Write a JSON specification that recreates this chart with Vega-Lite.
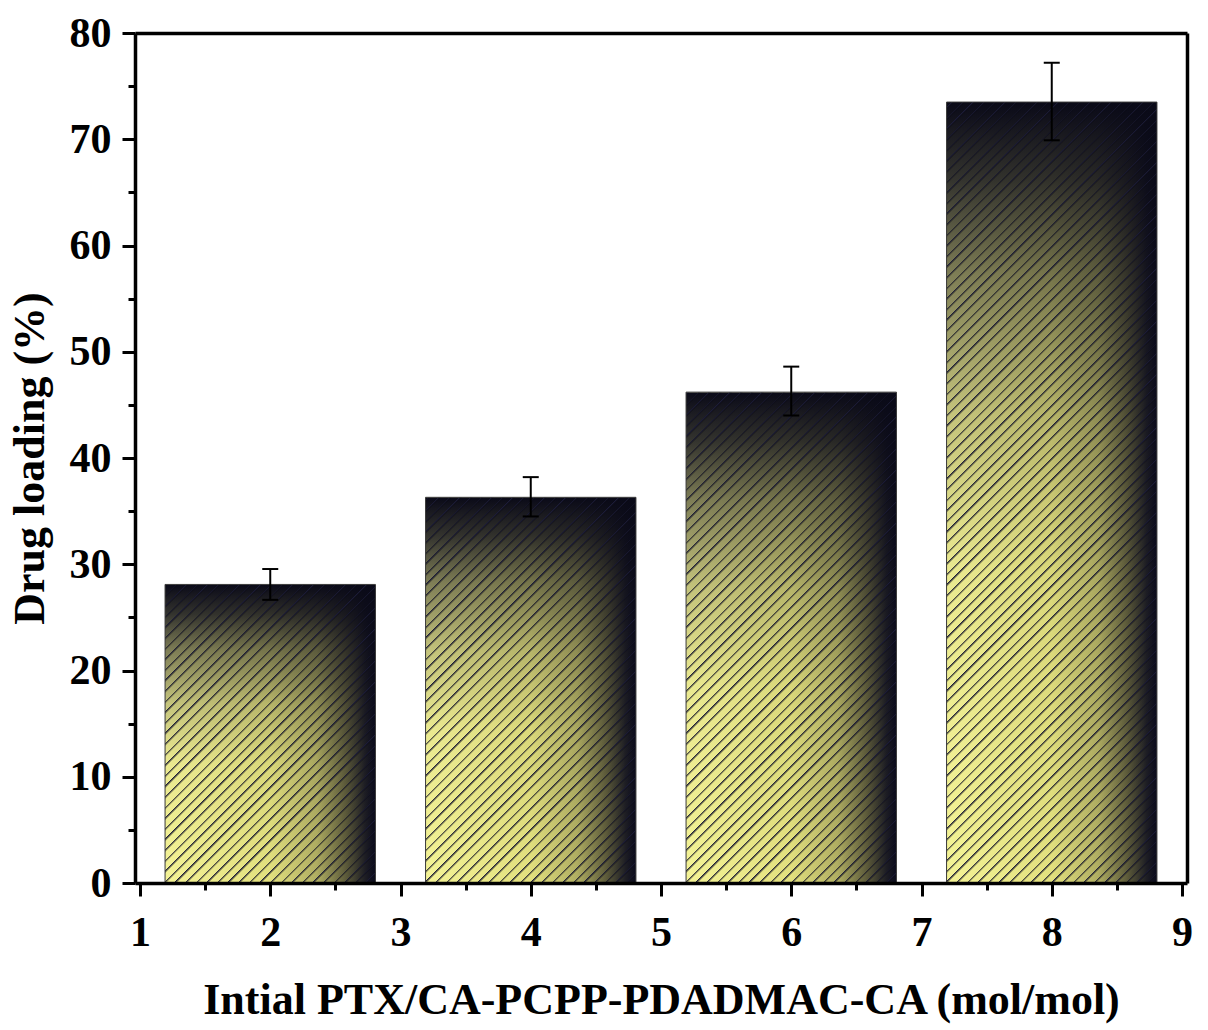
{
"$schema":"https://vega.github.io/schema/vega-lite/v6.json",
"autosize":{"type":"none"},
"padding":{"left":135,"top":33,"right":21,"bottom":147},
"width":1052,"height":850,
"background":"white",
"config":{"view":{"stroke":null},"font":"Liberation Serif"},
"data":{"values":[
{"x":2,"v":28.1,"lo":26.65,"hi":29.55},
{"x":4,"v":36.3,"lo":34.5,"hi":38.2},
{"x":6,"v":46.2,"lo":44.0,"hi":48.6},
{"x":8,"v":73.5,"lo":69.9,"hi":77.2}
]},
"resolve":{"axis":{"x":"independent","y":"independent"}},
"layer":[
{"mark":{"type":"bar","width":210.4,"fill":{"gradient":"linear","x1":0,"y1":0,"x2":1,"y2":0,"stops":[{"offset":0,"color":"#f4f396"},{"offset":0.5,"color":"#e2e07e"},{"offset":0.72,"color":"#b0ae62"},{"offset":0.86,"color":"#5c5a3a"},{"offset":0.95,"color":"#1e1e24"},{"offset":1,"color":"#0a0a1c"}]}},
 "encoding":{
  "x":{"field":"x","type":"quantitative","scale":{"domain":[1,9],"nice":false,"zero":false},
   "axis":{"orient":"bottom","values":[1,2,3,4,5,6,7,8,9],"title":"Intial PTX/CA-PCPP-PDADMAC-CA (mol/mol)","titleFont":"Liberation Serif","titleFontWeight":"bold","titleFontSize":44,"titleColor":"black","titleX":526,"titleY":130,"titleAlign":"center","titleBaseline":"alphabetic","labelFont":"Liberation Serif","labelFontWeight":"bold","labelFontSize":42,"labelColor":"black","labelPadding":16,"labelFlush":false,"labelOverlap":false,"tickSize":13,"tickWidth":3,"tickColor":"black","domainWidth":3.5,"domainColor":"black","grid":false,"zindex":1}},
  "y":{"field":"v","type":"quantitative","scale":{"domain":[0,80],"nice":false},
   "axis":{"orient":"left","values":[0,10,20,30,40,50,60,70,80],"title":"Drug loading (%)","titleFont":"Liberation Serif","titleFontWeight":"bold","titleFontSize":44,"titleColor":"black","titleAngle":-90,"titleX":-92,"titleY":425,"titleAlign":"center","titleBaseline":"alphabetic","labelFont":"Liberation Serif","labelFontWeight":"bold","labelFontSize":42,"labelColor":"black","labelPadding":11,"labelFlush":false,"labelOverlap":false,"tickSize":13,"tickWidth":3,"tickColor":"black","domainWidth":3.5,"domainColor":"black","grid":false,"zindex":1}}
 }},
{"mark":{"type":"bar","width":210.4,"fill":{"gradient":"linear","x1":0,"y1":1,"x2":0,"y2":0,"stops":[{"offset":0,"color":"rgba(10,10,24,0)"},{"offset":0.4,"color":"rgba(10,10,24,0.04)"},{"offset":0.6,"color":"rgba(10,10,24,0.2)"},{"offset":0.78,"color":"rgba(10,10,24,0.5)"},{"offset":0.9,"color":"rgba(10,10,24,0.82)"},{"offset":1,"color":"rgba(10,10,24,1)"}]}},
 "encoding":{
  "x":{"field":"x","type":"quantitative","axis":{"orient":"bottom","values":[1.5,2.5,3.5,4.5,5.5,6.5,7.5,8.5],"labels":false,"domain":false,"title":null,"tickSize":7,"tickWidth":3,"tickColor":"black","grid":false,"zindex":1}},
  "y":{"field":"v","type":"quantitative","axis":{"orient":"left","values":[5,15,25,35,45,55,65,75],"labels":false,"domain":false,"title":null,"tickSize":7,"tickWidth":3,"tickColor":"black","grid":false,"zindex":1}}
 }},
{"mark":{"type":"bar","width":210.4,"fill":{"gradient":"linear","x1":0,"y1":0,"x2":0.29097,"y2":1.17549,"stops":[
{"offset":0,"color":"#1c1c38"},{"offset":0.003,"color":"transparent"},{"offset":0.01,"color":"transparent"},
{"offset":0.01,"color":"#1c1c38"},{"offset":0.013,"color":"transparent"},{"offset":0.02,"color":"transparent"},
{"offset":0.02,"color":"#1c1c38"},{"offset":0.023,"color":"transparent"},{"offset":0.03,"color":"transparent"},
{"offset":0.03,"color":"#1c1c38"},{"offset":0.033,"color":"transparent"},{"offset":0.04,"color":"transparent"},
{"offset":0.04,"color":"#1c1c38"},{"offset":0.043,"color":"transparent"},{"offset":0.05,"color":"transparent"},
{"offset":0.05,"color":"#1c1c38"},{"offset":0.053,"color":"transparent"},{"offset":0.06,"color":"transparent"},
{"offset":0.06,"color":"#1c1c38"},{"offset":0.063,"color":"transparent"},{"offset":0.07,"color":"transparent"},
{"offset":0.07,"color":"#1c1c38"},{"offset":0.073,"color":"transparent"},{"offset":0.08,"color":"transparent"},
{"offset":0.08,"color":"#1c1c38"},{"offset":0.083,"color":"transparent"},{"offset":0.09,"color":"transparent"},
{"offset":0.09,"color":"#1c1c38"},{"offset":0.093,"color":"transparent"},{"offset":0.1,"color":"transparent"},
{"offset":0.1,"color":"#1c1c38"},{"offset":0.103,"color":"transparent"},{"offset":0.11,"color":"transparent"},
{"offset":0.11,"color":"#1c1c38"},{"offset":0.113,"color":"transparent"},{"offset":0.12,"color":"transparent"},
{"offset":0.12,"color":"#1c1c38"},{"offset":0.123,"color":"transparent"},{"offset":0.13,"color":"transparent"},
{"offset":0.13,"color":"#1c1c38"},{"offset":0.133,"color":"transparent"},{"offset":0.14,"color":"transparent"},
{"offset":0.14,"color":"#1c1c38"},{"offset":0.143,"color":"transparent"},{"offset":0.15,"color":"transparent"},
{"offset":0.15,"color":"#1c1c38"},{"offset":0.153,"color":"transparent"},{"offset":0.16,"color":"transparent"},
{"offset":0.16,"color":"#1c1c38"},{"offset":0.163,"color":"transparent"},{"offset":0.17,"color":"transparent"},
{"offset":0.17,"color":"#1c1c38"},{"offset":0.173,"color":"transparent"},{"offset":0.18,"color":"transparent"},
{"offset":0.18,"color":"#1c1c38"},{"offset":0.183,"color":"transparent"},{"offset":0.19,"color":"transparent"},
{"offset":0.19,"color":"#1c1c38"},{"offset":0.193,"color":"transparent"},{"offset":0.2,"color":"transparent"},
{"offset":0.2,"color":"#1c1c38"},{"offset":0.203,"color":"transparent"},{"offset":0.21,"color":"transparent"},
{"offset":0.21,"color":"#1c1c38"},{"offset":0.213,"color":"transparent"},{"offset":0.22,"color":"transparent"},
{"offset":0.22,"color":"#1c1c38"},{"offset":0.223,"color":"transparent"},{"offset":0.23,"color":"transparent"},
{"offset":0.23,"color":"#1c1c38"},{"offset":0.233,"color":"transparent"},{"offset":0.24,"color":"transparent"},
{"offset":0.24,"color":"#1c1c38"},{"offset":0.243,"color":"transparent"},{"offset":0.25,"color":"transparent"},
{"offset":0.25,"color":"#1c1c38"},{"offset":0.253,"color":"transparent"},{"offset":0.26,"color":"transparent"},
{"offset":0.26,"color":"#1c1c38"},{"offset":0.263,"color":"transparent"},{"offset":0.27,"color":"transparent"},
{"offset":0.27,"color":"#1c1c38"},{"offset":0.273,"color":"transparent"},{"offset":0.28,"color":"transparent"},
{"offset":0.28,"color":"#1c1c38"},{"offset":0.283,"color":"transparent"},{"offset":0.29,"color":"transparent"},
{"offset":0.29,"color":"#1c1c38"},{"offset":0.293,"color":"transparent"},{"offset":0.3,"color":"transparent"},
{"offset":0.3,"color":"#1c1c38"},{"offset":0.303,"color":"transparent"},{"offset":0.31,"color":"transparent"},
{"offset":0.31,"color":"#1c1c38"},{"offset":0.313,"color":"transparent"},{"offset":0.32,"color":"transparent"},
{"offset":0.32,"color":"#1c1c38"},{"offset":0.323,"color":"transparent"},{"offset":0.33,"color":"transparent"},
{"offset":0.33,"color":"#1c1c38"},{"offset":0.333,"color":"transparent"},{"offset":0.34,"color":"transparent"},
{"offset":0.34,"color":"#1c1c38"},{"offset":0.343,"color":"transparent"},{"offset":0.35,"color":"transparent"},
{"offset":0.35,"color":"#1c1c38"},{"offset":0.353,"color":"transparent"},{"offset":0.36,"color":"transparent"},
{"offset":0.36,"color":"#1c1c38"},{"offset":0.363,"color":"transparent"},{"offset":0.37,"color":"transparent"},
{"offset":0.37,"color":"#1c1c38"},{"offset":0.373,"color":"transparent"},{"offset":0.38,"color":"transparent"},
{"offset":0.38,"color":"#1c1c38"},{"offset":0.383,"color":"transparent"},{"offset":0.39,"color":"transparent"},
{"offset":0.39,"color":"#1c1c38"},{"offset":0.393,"color":"transparent"},{"offset":0.4,"color":"transparent"},
{"offset":0.4,"color":"#1c1c38"},{"offset":0.403,"color":"transparent"},{"offset":0.41,"color":"transparent"},
{"offset":0.41,"color":"#1c1c38"},{"offset":0.413,"color":"transparent"},{"offset":0.42,"color":"transparent"},
{"offset":0.42,"color":"#1c1c38"},{"offset":0.423,"color":"transparent"},{"offset":0.43,"color":"transparent"},
{"offset":0.43,"color":"#1c1c38"},{"offset":0.433,"color":"transparent"},{"offset":0.44,"color":"transparent"},
{"offset":0.44,"color":"#1c1c38"},{"offset":0.443,"color":"transparent"},{"offset":0.45,"color":"transparent"},
{"offset":0.45,"color":"#1c1c38"},{"offset":0.453,"color":"transparent"},{"offset":0.46,"color":"transparent"},
{"offset":0.46,"color":"#1c1c38"},{"offset":0.463,"color":"transparent"},{"offset":0.47,"color":"transparent"},
{"offset":0.47,"color":"#1c1c38"},{"offset":0.473,"color":"transparent"},{"offset":0.48,"color":"transparent"},
{"offset":0.48,"color":"#1c1c38"},{"offset":0.483,"color":"transparent"},{"offset":0.49,"color":"transparent"},
{"offset":0.49,"color":"#1c1c38"},{"offset":0.493,"color":"transparent"},{"offset":0.5,"color":"transparent"},
{"offset":0.5,"color":"#1c1c38"},{"offset":0.503,"color":"transparent"},{"offset":0.51,"color":"transparent"},
{"offset":0.51,"color":"#1c1c38"},{"offset":0.513,"color":"transparent"},{"offset":0.52,"color":"transparent"},
{"offset":0.52,"color":"#1c1c38"},{"offset":0.523,"color":"transparent"},{"offset":0.53,"color":"transparent"},
{"offset":0.53,"color":"#1c1c38"},{"offset":0.533,"color":"transparent"},{"offset":0.54,"color":"transparent"},
{"offset":0.54,"color":"#1c1c38"},{"offset":0.543,"color":"transparent"},{"offset":0.55,"color":"transparent"},
{"offset":0.55,"color":"#1c1c38"},{"offset":0.553,"color":"transparent"},{"offset":0.56,"color":"transparent"},
{"offset":0.56,"color":"#1c1c38"},{"offset":0.563,"color":"transparent"},{"offset":0.57,"color":"transparent"},
{"offset":0.57,"color":"#1c1c38"},{"offset":0.573,"color":"transparent"},{"offset":0.58,"color":"transparent"},
{"offset":0.58,"color":"#1c1c38"},{"offset":0.583,"color":"transparent"},{"offset":0.59,"color":"transparent"},
{"offset":0.59,"color":"#1c1c38"},{"offset":0.593,"color":"transparent"},{"offset":0.6,"color":"transparent"},
{"offset":0.6,"color":"#1c1c38"},{"offset":0.603,"color":"transparent"},{"offset":0.61,"color":"transparent"},
{"offset":0.61,"color":"#1c1c38"},{"offset":0.613,"color":"transparent"},{"offset":0.62,"color":"transparent"},
{"offset":0.62,"color":"#1c1c38"},{"offset":0.623,"color":"transparent"},{"offset":0.63,"color":"transparent"},
{"offset":0.63,"color":"#1c1c38"},{"offset":0.633,"color":"transparent"},{"offset":0.64,"color":"transparent"},
{"offset":0.64,"color":"#1c1c38"},{"offset":0.643,"color":"transparent"},{"offset":0.65,"color":"transparent"},
{"offset":0.65,"color":"#1c1c38"},{"offset":0.653,"color":"transparent"},{"offset":0.66,"color":"transparent"},
{"offset":0.66,"color":"#1c1c38"},{"offset":0.663,"color":"transparent"},{"offset":0.67,"color":"transparent"},
{"offset":0.67,"color":"#1c1c38"},{"offset":0.673,"color":"transparent"},{"offset":0.68,"color":"transparent"},
{"offset":0.68,"color":"#1c1c38"},{"offset":0.683,"color":"transparent"},{"offset":0.69,"color":"transparent"},
{"offset":0.69,"color":"#1c1c38"},{"offset":0.693,"color":"transparent"},{"offset":0.7,"color":"transparent"},
{"offset":0.7,"color":"#1c1c38"},{"offset":0.703,"color":"transparent"},{"offset":0.71,"color":"transparent"},
{"offset":0.71,"color":"#1c1c38"},{"offset":0.713,"color":"transparent"},{"offset":0.72,"color":"transparent"},
{"offset":0.72,"color":"#1c1c38"},{"offset":0.723,"color":"transparent"},{"offset":0.73,"color":"transparent"},
{"offset":0.73,"color":"#1c1c38"},{"offset":0.733,"color":"transparent"},{"offset":0.74,"color":"transparent"},
{"offset":0.74,"color":"#1c1c38"},{"offset":0.743,"color":"transparent"},{"offset":0.75,"color":"transparent"},
{"offset":0.75,"color":"#1c1c38"},{"offset":0.753,"color":"transparent"},{"offset":0.76,"color":"transparent"},
{"offset":0.76,"color":"#1c1c38"},{"offset":0.763,"color":"transparent"},{"offset":0.77,"color":"transparent"},
{"offset":0.77,"color":"#1c1c38"},{"offset":0.773,"color":"transparent"},{"offset":0.78,"color":"transparent"},
{"offset":0.78,"color":"#1c1c38"},{"offset":0.783,"color":"transparent"},{"offset":0.79,"color":"transparent"},
{"offset":0.79,"color":"#1c1c38"},{"offset":0.793,"color":"transparent"},{"offset":0.8,"color":"transparent"},
{"offset":0.8,"color":"#1c1c38"},{"offset":0.803,"color":"transparent"},{"offset":0.81,"color":"transparent"},
{"offset":0.81,"color":"#1c1c38"},{"offset":0.813,"color":"transparent"},{"offset":0.82,"color":"transparent"},
{"offset":0.82,"color":"#1c1c38"},{"offset":0.823,"color":"transparent"},{"offset":0.83,"color":"transparent"},
{"offset":0.83,"color":"#1c1c38"},{"offset":0.833,"color":"transparent"},{"offset":0.84,"color":"transparent"},
{"offset":0.84,"color":"#1c1c38"},{"offset":0.843,"color":"transparent"},{"offset":0.85,"color":"transparent"},
{"offset":0.85,"color":"#1c1c38"},{"offset":0.853,"color":"transparent"},{"offset":0.86,"color":"transparent"},
{"offset":0.86,"color":"#1c1c38"},{"offset":0.863,"color":"transparent"},{"offset":0.87,"color":"transparent"},
{"offset":0.87,"color":"#1c1c38"},{"offset":0.873,"color":"transparent"},{"offset":0.88,"color":"transparent"},
{"offset":0.88,"color":"#1c1c38"},{"offset":0.883,"color":"transparent"},{"offset":0.89,"color":"transparent"},
{"offset":0.89,"color":"#1c1c38"},{"offset":0.893,"color":"transparent"},{"offset":0.9,"color":"transparent"},
{"offset":0.9,"color":"#1c1c38"},{"offset":0.903,"color":"transparent"},{"offset":0.91,"color":"transparent"},
{"offset":0.91,"color":"#1c1c38"},{"offset":0.913,"color":"transparent"},{"offset":0.92,"color":"transparent"},
{"offset":0.92,"color":"#1c1c38"},{"offset":0.923,"color":"transparent"},{"offset":0.93,"color":"transparent"},
{"offset":0.93,"color":"#1c1c38"},{"offset":0.933,"color":"transparent"},{"offset":0.94,"color":"transparent"},
{"offset":0.94,"color":"#1c1c38"},{"offset":0.943,"color":"transparent"},{"offset":0.95,"color":"transparent"},
{"offset":0.95,"color":"#1c1c38"},{"offset":0.953,"color":"transparent"},{"offset":0.96,"color":"transparent"},
{"offset":0.96,"color":"#1c1c38"},{"offset":0.963,"color":"transparent"},{"offset":0.97,"color":"transparent"},
{"offset":0.97,"color":"#1c1c38"},{"offset":0.973,"color":"transparent"},{"offset":0.98,"color":"transparent"},
{"offset":0.98,"color":"#1c1c38"},{"offset":0.983,"color":"transparent"},{"offset":0.99,"color":"transparent"},
{"offset":0.99,"color":"#1c1c38"},{"offset":0.993,"color":"transparent"},{"offset":1,"color":"transparent"}
]}},
 "encoding":{
  "x":{"field":"x","type":"quantitative","axis":{"orient":"top","labels":false,"ticks":false,"domain":true,"domainWidth":3.5,"domainColor":"black","title":null,"grid":false,"zindex":2}},
  "y":{"datum":0,"type":"quantitative","axis":{"orient":"right","labels":false,"ticks":false,"domain":true,"domainWidth":3.5,"domainColor":"black","title":null,"grid":false,"zindex":2}},
  "y2":{"datum":80}
 }},
{"mark":{"type":"bar","width":212,"fill":"white"},
 "encoding":{
  "x":{"field":"x","type":"quantitative","axis":null},
  "y":{"field":"v","type":"quantitative","axis":null},
  "y2":{"datum":80}
 }},
{"mark":{"type":"bar","width":210.4,"fill":"transparent","stroke":"#3a3a3a","strokeWidth":1},
 "encoding":{
  "x":{"field":"x","type":"quantitative","axis":null},
  "y":{"field":"v","type":"quantitative","axis":null}
 }},
{"mark":{"type":"rule","color":"black","strokeWidth":2},
 "encoding":{
  "x":{"field":"x","type":"quantitative","axis":null},
  "y":{"field":"lo","type":"quantitative","axis":null},
  "y2":{"field":"hi"}
 }},
{"mark":{"type":"tick","orient":"horizontal","size":16,"thickness":2,"color":"black","opacity":1},
 "encoding":{
  "x":{"field":"x","type":"quantitative","axis":null},
  "y":{"field":"lo","type":"quantitative","axis":null}
 }},
{"mark":{"type":"tick","orient":"horizontal","size":16,"thickness":2,"color":"black","opacity":1},
 "encoding":{
  "x":{"field":"x","type":"quantitative","axis":null},
  "y":{"field":"hi","type":"quantitative","axis":null}
 }}
]
}
